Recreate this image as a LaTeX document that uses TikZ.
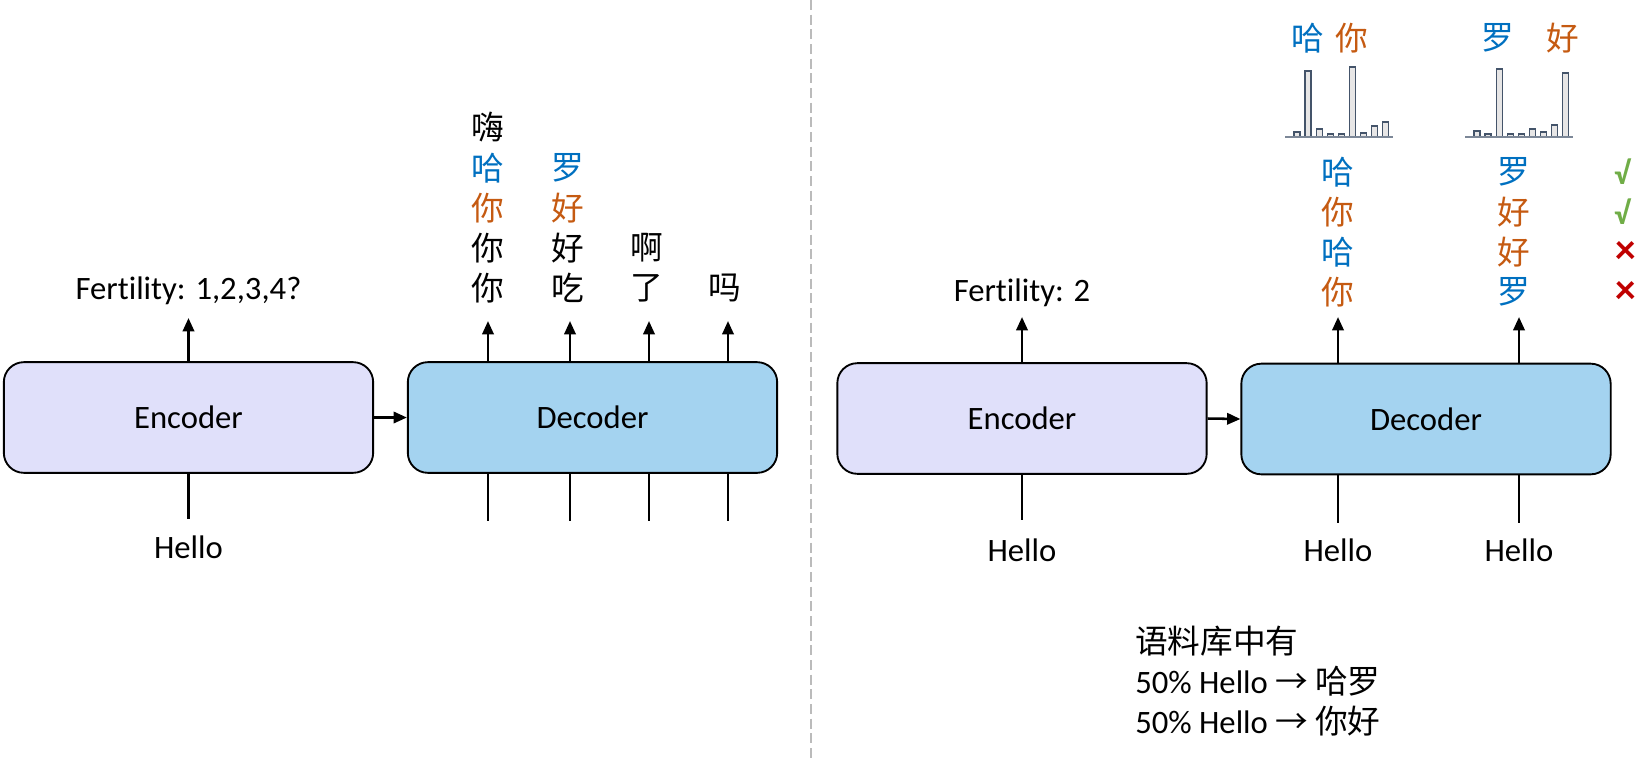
\documentclass[tikz,border=0pt]{standalone}
\usepackage{fontspec}
\setmainfont{Carlito}[Ligatures={NoCommon,NoRare,NoContextual}]
\newfontfamily\cjk{Noto Sans CJK SC}
\usetikzlibrary{arrows.meta}
\definecolor{encfill}{HTML}{E0E0FA}
\definecolor{decfill}{HTML}{A4D3F0}
\definecolor{cblue}{HTML}{0070C0}
\definecolor{corange}{HTML}{C55A11}
\definecolor{cgreen}{HTML}{70AD47}
\definecolor{cred}{HTML}{C00000}
\definecolor{barfill}{HTML}{E7E6E6}
\definecolor{barline}{HTML}{44546A}
\definecolor{divcol}{HTML}{BBBBBB}
\newcommand\myfs{\fontsize{24.5}{29}\selectfont}
\newcommand\cjkfs{\fontsize{24.5}{29}\selectfont}
\tikzset{
  box/.style={draw, line width=1.4pt, rounded corners=15pt, minimum width=277pt, minimum height=83pt, font=\myfs, inner sep=0pt},
  encbox/.style={box, fill=encfill},
  decbox/.style={box, fill=decfill},
  arr/.style={line width=1.9pt, -{Triangle[length=10pt,width=8.5pt]}},
  ln/.style={line width=1.9pt},
  lbl/.style={font=\myfs, inner sep=0pt, anchor=base},
  ch/.style={font=\cjk\cjkfs, inner sep=0pt},
  tickmark/.style={font=\bfseries\fontsize{24}{28}\selectfont, inner sep=0pt},
  crossmark/.style={font=\bfseries\fontsize{31}{34}\selectfont, inner sep=0pt},
  bar/.style={draw=barline, fill=barfill, line width=1pt},
  axisln/.style={draw=barline!70, line width=1.5pt},
  divider/.style={draw=divcol, line width=0.8pt, dash pattern=on 7.5pt off 3.5pt},
}
\begin{document}
\begin{tikzpicture}[x=0.75pt, y=-0.75pt]
\useasboundingbox (0,0) rectangle (1638,758);
% divider
\coordinate (dtop) at (811,0);
\coordinate (dbot) at (811,758);
\draw[divider] (dtop) -- (dbot);

% ===== left panel =====
\node[encbox] (enc1) at (188.5,417.5) {Encoder};
\node[decbox] (dec1) at (592.5,417.5) {Decoder};
\draw[arr] (enc1.east) -- (dec1.west);
\coordinate (e1t) at (188.5,318);
\coordinate (e1b) at (188.5,519);
\draw[arr] (enc1.north) -- (e1t);
\draw[ln] (enc1.south) -- (e1b);
\node[lbl] (fert1) at (188.5,299) {Fertility: 1,2,3,4?};
\node[lbl] (hello1) at (188.5,558) {Hello};
\foreach \x [count=\k] in {488,570,649,728}{
  \coordinate (t\k) at (\x,321);
  \coordinate (b\k) at (\x,521);
  \draw[arr] (dec1.north -| t\k) -- (t\k);
  \draw[ln] (dec1.south -| b\k) -- (b\k);
}
\node[ch] (c11) at (488,127) {嗨};
\node[ch, text=cblue] (c12) at (488,168) {哈};
\node[ch, text=corange] (c13) at (488,208) {你};
\node[ch] (c14) at (488,248) {你};
\node[ch] (c15) at (488,288) {你};
\node[ch, text=cblue] (c22) at (568,168) {罗};
\node[ch, text=corange] (c23) at (568,208) {好};
\node[ch] (c24) at (568,248) {好};
\node[ch] (c25) at (568,288) {吃};
\node[ch] (c34) at (647,248) {啊};
\node[ch] (c35) at (647,288) {了};
\node[ch] (c45) at (725,288) {吗};

% ===== right panel =====
\node[encbox] (enc2) at (1022,418.5) {Encoder};
\node[decbox] (dec2) at (1426,419) {Decoder};
\draw[arr] (enc2.east) -- (dec2.west);
\coordinate (e2t) at (1022,317);
\coordinate (e2b) at (1022,520);
\draw[arr] (enc2.north) -- (e2t);
\draw[ln] (enc2.south) -- (e2b);
\node[lbl] (fert2) at (1022,301) {Fertility: 2};
\node[lbl] (hello2) at (1022,561) {Hello};
\coordinate (u1) at (1338,317);
\coordinate (u2) at (1519,317);
\coordinate (v1) at (1338,523);
\coordinate (v2) at (1519,523);
\draw[arr] (dec2.north -| u1) -- (u1);
\draw[arr] (dec2.north -| u2) -- (u2);
\draw[ln] (dec2.south -| v1) -- (v1);
\draw[ln] (dec2.south -| v2) -- (v2);
\node[lbl] (hello3) at (1338,561) {Hello};
\node[lbl] (hello4) at (1519,561) {Hello};

\node[ch, text=cblue] (d11) at (1338,172) {哈};
\node[ch, text=corange] (d12) at (1338,212) {你};
\node[ch, text=cblue] (d13) at (1338,252) {哈};
\node[ch, text=corange] (d14) at (1338,292) {你};
\node[ch, text=cblue] (d21) at (1514,172) {罗};
\node[ch, text=corange] (d22) at (1514,212) {好};
\node[ch, text=corange] (d23) at (1514,252) {好};
\node[ch, text=cblue] (d24) at (1514,292) {罗};
\node[tickmark, text=cgreen] (m1) at (1622,172) {√};
\node[tickmark, text=cgreen] (m2) at (1622,212) {√};
\node[crossmark, text=cred] (m3) at (1626,252) {×};
\node[crossmark, text=cred] (m4) at (1626,292) {×};

% bar charts
\node[ch, text=cblue] (h1) at (1308,38) {哈};
\node[ch, text=corange] (h2) at (1352,38) {你};
\node[ch, text=cblue] (h3) at (1498,38) {罗};
\node[ch, text=corange] (h4) at (1563,38) {好};
\foreach \h [count=\i from 0] in {5,66,8,3,3,70,4,11,15}{
  \draw[bar] ({1297+11.1*\i-3},137) rectangle ({1297+11.1*\i+3},{137-\h});
}
\foreach \h [count=\i from 0] in {6,3,68,3,3,8,5,12,64}{
  \draw[bar] ({1477+11.1*\i-3},137) rectangle ({1477+11.1*\i+3},{137-\h});
}
\coordinate (ax1a) at (1285,137);
\coordinate (ax1b) at (1393,137);
\coordinate (ax2a) at (1465,137);
\coordinate (ax2b) at (1573,137);
\draw[axisln] (ax1a) -- (ax1b);
\draw[axisln] (ax2a) -- (ax2b);

% corpus note
\node[lbl, anchor=base west, font=\cjk\cjkfs] (n1) at (1135,653) {语料库中有};
\node[lbl, anchor=base west] (n2) at (1135,693) {50\% Hello {\cjk → 哈罗}};
\node[lbl, anchor=base west] (n3) at (1135,733) {50\% Hello {\cjk → 你好}};
\end{tikzpicture}
\end{document}
